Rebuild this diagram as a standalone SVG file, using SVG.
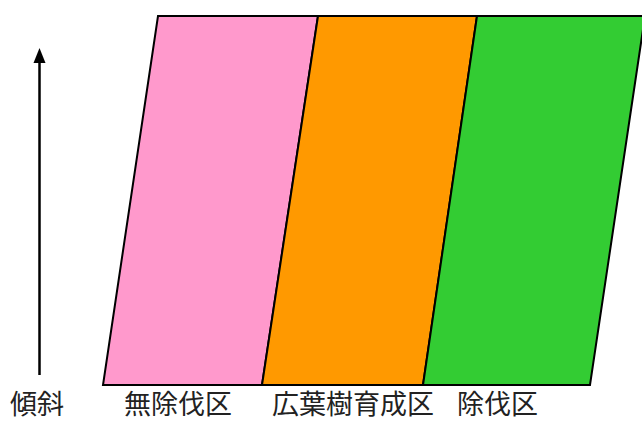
<svg xmlns="http://www.w3.org/2000/svg" width="642" height="424" viewBox="0 0 642 424">
<defs>
<style>
.band{stroke:#000;stroke-width:2;stroke-linejoin:miter}
.lbl{font-family:"Noto Sans CJK JP","Noto Sans CJK SC",sans-serif;font-size:27px;fill:#222}
</style>
</defs>
<rect width="642" height="424" fill="#fff"/>
<g id="zone-no-thinning">
<polygon class="band" points="158,16 318,16 262,385 103,385" fill="#FF99CC"/>
</g>
<g id="zone-broadleaf">
<polygon class="band" points="318,16 477,16 423,385 262,385" fill="#FF9900"/>
</g>
<g id="zone-thinning">
<polygon class="band" points="477,16 645,16 590,385 423,385" fill="#33CC33"/>
</g>
<g id="connectors">
<line x1="39.5" y1="375" x2="39.5" y2="62" stroke="#000" stroke-width="2.5"/>
<polygon points="39.5,48 33.5,63 45.5,63" fill="#000"/>
</g>
<g id="labels">
<text class="lbl" x="10" y="414">傾斜</text>
<text class="lbl" x="124" y="414">無除伐区</text>
<text class="lbl" x="272" y="414">広葉樹育成区</text>
<text class="lbl" x="457" y="414">除伐区</text>
</g>
</svg>
